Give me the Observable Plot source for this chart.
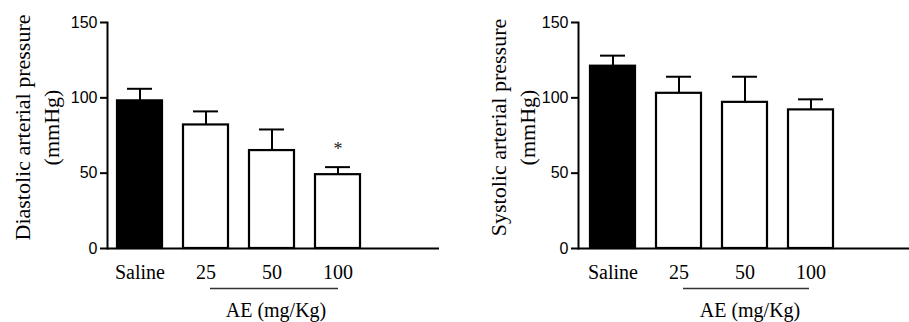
<!DOCTYPE html>
<html>
<head>
<meta charset="utf-8">
<script src="https://cdn.jsdelivr.net/npm/d3@7"></script>
<script src="https://cdn.jsdelivr.net/npm/@observablehq/plot@0.6"></script>
<style>
  html, body { margin: 0; padding: 0; background: #fff; }
  #wrap { display: flex; width: 909px; height: 322px; }
</style>
</head>
<body>
<div id="wrap"></div>
<script>
const categories = ["Saline", "25", "50", "100"];
const diastolicMean = [98, 82, 65, 49];
const diastolicSem = [8, 9, 14, 5];
const diastolicSig = ["", "", "", "*"];
const systolicMean = [121, 103, 97, 92];
const systolicSem = [7, 11, 17, 7];
const systolicSig = ["", "", "", ""];
const yTicks = [0, 50, 100, 150];
const groupLabel = "AE (mg/Kg)";
const leftTitle = "Diastolic arterial pressure\n(mmHg)";
const rightTitle = "Systolic arterial pressure\n(mmHg)";

const serif = "'Liberation Serif', 'Times New Roman', serif";
const sans = "'Liberation Sans', Arial, sans-serif";

function panel({means, sems, sigs, title, width, marginLeft, marginRight, xRange, titleDx, labelDx, insetL, insetR}) {
  const data = categories.map((c, i) => ({cat: c, mean: means[i], top: means[i] + sems[i], sig: sigs[i], fill: c === "Saline" ? "black" : "white"}));
  return Plot.plot({
    width, height: 322,
    marginTop: 22, marginBottom: 74, marginLeft, marginRight,
    style: {fontFamily: sans, fontSize: "16px", color: "black", background: "white", overflow: "visible"},
    x: {domain: categories, range: xRange, paddingInner: 0.32, paddingOuter: 0.15, axis: null},
    y: {domain: [0, 150], axis: null},
    marks: [
      Plot.axisY({ticks: yTicks, tickSize: 7, tickPadding: 3, strokeWidth: 2, fontSize: 16, fontFamily: sans, label: null}),
      Plot.frame({anchor: "left", stroke: "black", strokeWidth: 2}),
      Plot.axisX({tickSize: 0, tickPadding: 16, fontSize: 20, fontFamily: serif, label: null}),
      Plot.ruleX(data, {x: "cat", y1: "mean", y2: "top", stroke: "black", strokeWidth: 2}),
      Plot.tickY(data, {x: "cat", y: "top", stroke: "black", strokeWidth: 2, insetLeft: 10, insetRight: 10}),
      Plot.barY(data, {x: "cat", y: "mean", fill: "fill", stroke: "black", strokeWidth: 2.2}),
      Plot.text(data, {x: "cat", y: "top", text: "sig", dy: -18, fontSize: 18, fontFamily: serif, fill: "#222"}),
      Plot.ruleY([0], {stroke: "black", strokeWidth: 2}),
      Plot.ruleY([0], {x1: () => "25", x2: () => "100", dy: 40, insetLeft: insetL, insetRight: insetR, stroke: "#333", strokeWidth: 1.5}),
      Plot.text([groupLabel], {x: () => "50", y: () => 0, text: d => d, dy: 62, dx: labelDx, fontSize: 20, fontFamily: serif, fill: "black"}),
      Plot.text([title], {frameAnchor: "left", textAnchor: "middle", lineAnchor: "middle", text: d => d, rotate: -90, dx: titleDx, dy: -8, fontSize: 22, lineHeight: 1.33, fontFamily: serif, fill: "black"})
    ]
  });
}

const wrap = document.getElementById("wrap");
wrap.append(panel({means: diastolicMean, sems: diastolicSem, sigs: diastolicSig, title: leftTitle,
  width: 455, marginLeft: 107, marginRight: 16, xRange: [107, 370], titleDx: -72, labelDx: 4, insetL: 27, insetR: 22}));
wrap.append(panel({means: systolicMean, sems: systolicSem, sigs: systolicSig, title: rightTitle,
  width: 454, marginLeft: 123, marginRight: 0, xRange: [125, 388], titleDx: -67, labelDx: 5, insetL: 27, insetR: 24}));
</script>
</body>
</html>
